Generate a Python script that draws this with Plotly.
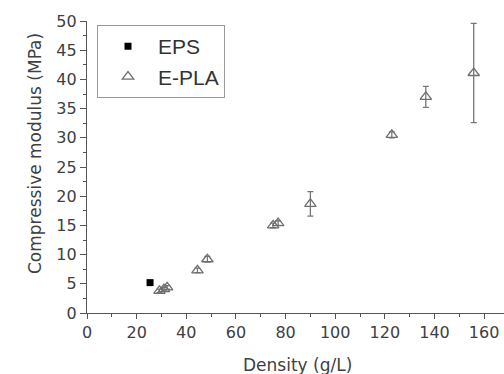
import plotly.graph_objects as go

eps_density = [25.4]
eps_modulus = [5.2]

pla_density = [29.2, 31.0, 32.3, 44.5, 48.5, 75.0, 77.0, 90.0, 122.8, 136.5, 155.8]
pla_modulus = [3.8, 4.1, 4.4, 7.3, 9.2, 15.0, 15.4, 18.7, 30.5, 37.0, 41.1]
pla_error = [0.3, 0.3, 0.3, 0.4, 0.5, 0.4, 0.4, 2.1, 0.5, 1.8, 8.5]

x_ticks = [0, 20, 40, 60, 80, 100, 120, 140, 160]
y_ticks = [0, 5, 10, 15, 20, 25, 30, 35, 40, 45, 50]

x_title = "Density (g/L)"
y_title = "Compressive modulus (MPa)"

fig = go.Figure()
fig.add_trace(go.Scatter(
    x=eps_density, y=eps_modulus, mode="markers", name="EPS",
    marker=dict(symbol="square", size=7, color="black"),
))
fig.add_trace(go.Scatter(
    x=pla_density, y=pla_modulus, mode="markers", name="E-PLA",
    marker=dict(symbol="triangle-up-open", size=10, color="#6f6f6f", line=dict(width=1.3)),
    error_y=dict(type="data", array=pla_error, visible=True, color="#777777", thickness=1.3, width=3),
))

tick_font = dict(family="DejaVu Sans", size=16, color="#404040")
title_font = dict(family="DejaVu Sans", size=17, color="#404040")

fig.update_layout(
    width=504, height=374,
    margin=dict(l=87, r=0, t=21, b=61, autoexpand=False),
    paper_bgcolor="white", plot_bgcolor="white",
    showlegend=True,
    legend=dict(
        x=0.024, y=0.986, xanchor="left", yanchor="top",
        bordercolor="#999999", borderwidth=1, bgcolor="white",
        font=dict(family="Liberation Sans", size=21, color="#333333"),
        itemwidth=50, tracegroupgap=0,
    ),
    xaxis=dict(
        range=[0, 168], tickvals=x_ticks, ticktext=[str(v) for v in x_ticks],
        tickfont=tick_font, automargin=False,
        showgrid=False, zeroline=False, showline=True, linecolor="#555555", linewidth=1.2,
        ticks="outside", ticklen=5, tickcolor="#555555",
        minor=dict(dtick=10, tick0=0, ticks="outside", ticklen=3, tickcolor="#555555"),
    ),
    yaxis=dict(
        range=[0, 50], tickvals=y_ticks, ticktext=[str(v) for v in y_ticks],
        tickfont=tick_font, automargin=False,
        showgrid=False, zeroline=False, showline=True, linecolor="#555555", linewidth=1.2,
        ticks="outside", ticklen=6, tickcolor="#555555",
        minor=dict(dtick=2.5, tick0=0, ticks="outside", ticklen=3, tickcolor="#555555"),
    ),
    annotations=[
        dict(text=x_title, xref="paper", yref="paper", x=0.5036, y=-0.178,
             xanchor="center", yanchor="middle", showarrow=False, font=title_font),
        dict(text=y_title, xref="paper", yref="paper", x=-0.1247, y=0.5445,
             xanchor="center", yanchor="middle", textangle=-90, showarrow=False, font=title_font),
    ],
)

fig.write_html(
    "out.html",
    config={"displayModeBar": False},
    post_script="document.body.style.margin='0';document.body.style.overflow='hidden';",
)
